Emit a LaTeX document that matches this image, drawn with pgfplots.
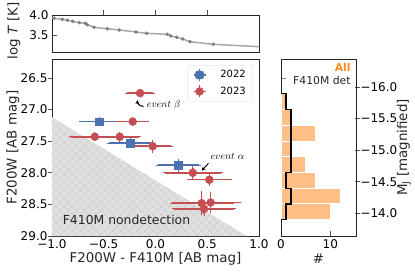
\documentclass[border=0pt]{standalone}
\usepackage{fontspec}
\setmainfont{DejaVu Sans}
\usepackage{pgfplots}
\pgfplotsset{compat=1.18}
\usetikzlibrary{patterns.meta,arrows.meta}
\definecolor{cblue}{HTML}{4C72B0}
\definecolor{cred}{HTML}{C44E52}
\definecolor{horange}{HTML}{FFBF86}
\definecolor{aorange}{HTML}{FF8C1A}
\definecolor{frame}{HTML}{262626}
\definecolor{tline}{HTML}{A8A8A8}
\definecolor{tmark}{HTML}{808080}
\newcommand{\tickfont}{\fontsize{12}{14}\selectfont}
\newcommand{\labfont}{\fontsize{13.4}{16}\selectfont}
\begin{document}
\begin{tikzpicture}
\useasboundingbox (0pt,0pt) rectangle (415pt,271pt);
\pgfplotsset{
  every axis/.append style={
    scale only axis,
    axis line style={frame, line width=0.8pt},
    every tick/.append style={frame!80, line width=0.8pt},
    major tick length=5pt,
    tick label style={font=\tickfont},
    /pgf/number format/assume math mode=true,
  },
}
% ---------- top panel ----------
\begin{axis}[at={(52pt,219pt)}, anchor=south west, width=207pt, height=37pt,
  xmin=-1, xmax=1, ymin=3.075, ymax=4.0,
  xtick={-0.5,0,0.5}, xticklabels={}, xtick pos=top,
  ytick={3.5,4.0}, yticklabels={3.5,4.0}, ytick pos=left,
  tick align=inside,
  every x tick/.append style={yshift=5pt},
]
\addplot[tline, line width=1.5pt] coordinates {
(-1.0,3.93) (-0.978,3.917) (-0.90,3.892) (-0.85,3.867) (-0.80,3.842) (-0.736,3.808)
(-0.678,3.792) (-0.659,3.758) (-0.594,3.692) (-0.466,3.658) (-0.35,3.625) (-0.188,3.575)
(-0.085,3.542) (0.114,3.517) (0.147,3.475) (0.205,3.442) (0.263,3.40) (0.333,3.333)
(0.558,3.267) (1.0,3.208)};
\addplot[only marks, mark=*, mark size=1.6pt, tmark] coordinates {
(-0.978,3.917) (-0.90,3.892) (-0.85,3.867) (-0.80,3.842) (-0.736,3.808)
(-0.678,3.792) (-0.659,3.758) (-0.594,3.692) (-0.466,3.658) (-0.35,3.625) (-0.188,3.575)
(-0.085,3.542) (0.114,3.517) (0.147,3.475) (0.205,3.442) (0.263,3.40) (0.333,3.333)
(0.558,3.267)};
\end{axis}
% ---------- main panel ----------
\begin{axis}[at={(52pt,35pt)}, anchor=south west, width=207pt, height=177pt,
  xmin=-1, xmax=1, ymin=26.2, ymax=29.0, y dir=reverse,
  xtick={-1,-0.5,0,0.5,1}, xticklabels={−1.0,−0.5,0.0,0.5,1.0},
  ytick={26.5,27,27.5,28,28.5,29}, yticklabels={26.5,27.0,27.5,28.0,28.5,29.0},
  xtick pos=bottom, ytick pos=left, tick align=inside,
  every y tick/.append style={xshift=-4pt},
  yticklabel style={xshift=-1pt},
  legend style={at={(axis description cs:0.971,0.966)}, anchor=north east,
    draw=black!15, rounded corners=2pt, font=\fontsize{10}{12}\selectfont,
    inner xsep=5pt, inner ysep=3pt, row sep=3pt},
  legend cell align=left,
]
\addplot[forget plot, fill=gray!24, draw=none,
  postaction={pattern={Hatch[angle=45,distance=5.7pt,line width=0.45pt]}, pattern color=gray!40}]
  coordinates {(-1,27.12) (0.88,29.0) (-1,29.0) (-1,27.12)};
\addplot[only marks, mark=square*, mark size=3.8pt, cblue,
  error bars/.cd, x dir=both, x explicit, y dir=both, y explicit,
  error bar style={line width=1.5pt, cblue}, error mark options={mark size=2pt, line width=1pt, cblue},
  /pgfplots/legend image code/.code={
    \draw[cblue, line width=1.5pt] (3pt,0pt)--(15pt,0pt);
    \draw[cblue, line width=1.5pt] (9pt,-6pt)--(9pt,6pt);
    \fill[cblue] (5pt,-4pt) rectangle (13pt,4pt);}]
  coordinates {
  (-0.544,27.19) +- (0.18,0.04)
  (-0.246,27.53) +- (0.20,0.05)
  (0.22,27.88) +- (0.20,0.07)
  };
\addlegendentry{\hspace{12pt}2022}
\addplot[only marks, mark=*, mark size=4pt, cred,
  error bars/.cd, x dir=both, x explicit, y dir=both, y explicit,
  error bar style={line width=1.5pt, cred}, error mark options={mark size=2pt, line width=1pt, cred},
  /pgfplots/legend image code/.code={
    \draw[cred, line width=1.5pt] (3pt,0pt)--(15pt,0pt);
    \draw[cred, line width=1.5pt] (9pt,-6pt)--(9pt,6pt);
    \fill[cred] (9pt,0pt) circle (4pt);}]
  coordinates {
  (-0.149,26.74) +- (0.125,0.035)
  (-0.22,27.19) +- (0.14,0.04)
  (-0.586,27.43) +- (0.23,0.04)
  (-0.346,27.43) +- (0.19,0.05)
  (-0.027,27.58) +- (0.18,0.07)
  (0.36,28.0) +- (0.27,0.07)
  (0.52,28.11) +- (0.20,0.065)
  (0.446,28.48) +- (0.29,0.16)
  (0.533,28.47) +- (0.274,0.13)
  (0.469,28.57) +- (0.29,0.08)
  };
\addlegendentry{\hspace{12pt}2023}
\node[anchor=west, font=\fontsize{12.4}{14}\selectfont, text=black!85, inner sep=0pt] at (axis cs:-0.897,28.75) {F410M nondetection};
\node[anchor=west, inner sep=0pt, font=\fontsize{10}{12}\selectfont] at (axis cs:-0.085,26.93) {$event\ \beta$};
\node[anchor=west, inner sep=0pt, font=\fontsize{10}{12}\selectfont] at (axis cs:0.53,27.745) {$event\ \alpha$};
\draw[-{Stealth[length=4pt,width=4pt]}, line width=1pt] (axis cs:-0.115,26.95) to[out=180,in=-90] (axis cs:-0.175,26.85);
\draw[-{Stealth[length=4pt,width=4pt]}, line width=0.9pt] (axis cs:0.512,27.85) -- (axis cs:0.446,27.967);
\end{axis}
% ---------- histogram: left ticks (shared F200W) ----------
\begin{axis}[at={(281pt,35pt)}, anchor=south west, width=75pt, height=177pt,
  xmin=0, xmax=1, ymin=26.2, ymax=29.0, y dir=reverse,
  axis line style={draw=none}, xtick=\empty,
  ytick={26.5,27,27.5,28,28.5,29}, yticklabels={}, ytick pos=left, tick align=inside,
  every tick/.append style={frame!55}]
\end{axis}
% ---------- histogram ----------
\begin{axis}[at={(281pt,35pt)}, anchor=south west, width=75pt, height=177pt,
  xmin=0, xmax=15.2, ymin=-16.444, ymax=-13.644, y dir=reverse,
  xtick={0,10}, xticklabels={0,10}, xtick pos=bottom,
  ytick={-16,-15.5,-15,-14.5,-14}, yticklabels={−16.0,−15.5,−15.0,−14.5,−14.0},
  ytick pos=right, tick align=inside,
  every y tick/.append style={xshift=4pt},
  yticklabel style={xshift=1pt},
]
\addplot[xbar interval, fill=horange, draw=white, line width=0.8pt] coordinates {
(1,-15.895) (2,-15.646) (7,-15.397) (2,-15.148) (5,-14.899) (7,-14.650) (12,-14.401) (10,-14.152) (10,-13.903)};
\addplot[black, line width=1.3pt] coordinates {
(0,-15.895) (1,-15.895) (1,-15.646) (2,-15.646) (2,-14.650) (1,-14.650) (1,-14.401) (2,-14.401)
(2,-14.152) (1,-14.152) (1,-13.903) (0,-13.903)};
\node[anchor=east, inner sep=0pt, text=aorange, font=\bfseries\fontsize{10.8}{12}\selectfont] at (rel axis cs:0.93,0.951) {All};
\node[anchor=east, inner sep=0pt, text=black!85, font=\fontsize{10.8}{12}\selectfont] at (rel axis cs:0.93,0.881) {F410M det};
\end{axis}
% ---------- labels ----------
\node[rotate=90, font=\labfont, text=black!85] at (13pt,123.5pt) {F200W [AB mag]};
\node[rotate=90, font=\labfont, text=black!85] at (14pt,240pt) {log \textit{T} [K]};
\node[font=\labfont, text=black!85] at (155.5pt,12.5pt) {F200W - F410M [AB mag]};
\node[font=\labfont, text=black!85] at (318.5pt,12.5pt) {\#};
\node[rotate=90, font=\labfont, text=black!85] at (404pt,123.5pt) {M\textsubscript{J} [magnified]};
\end{tikzpicture}
\end{document}
